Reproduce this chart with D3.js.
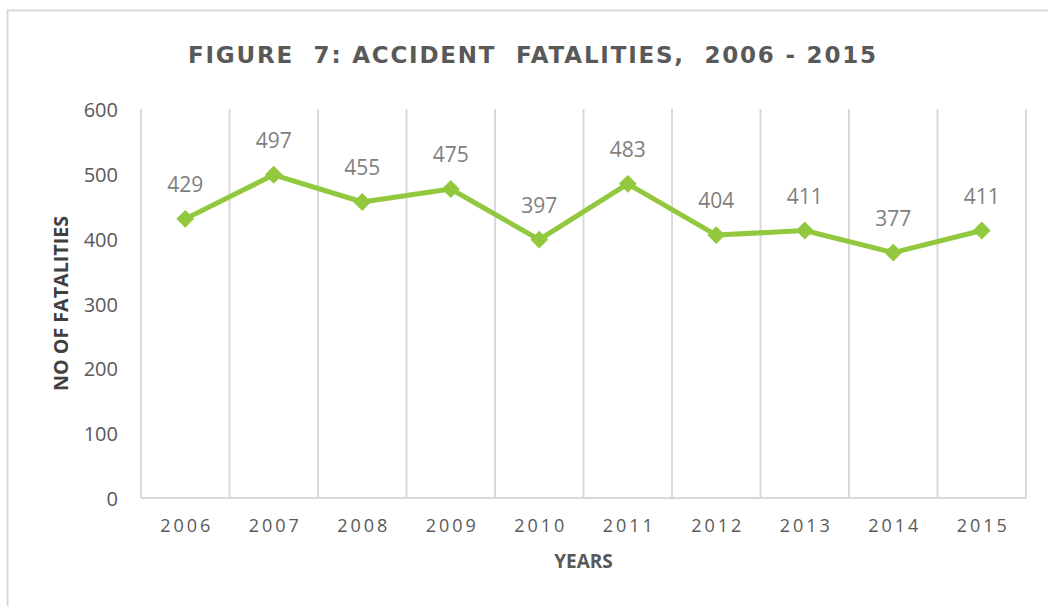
<!DOCTYPE html>
<html>
<head>
<meta charset="utf-8">
<script src="https://cdn.jsdelivr.net/npm/d3@7/dist/d3.min.js"></script>
<style>
  html, body { margin: 0; padding: 0; background: #fff; }
  svg { display: block; }
</style>
</head>
<body>
<svg id="chart" width="1048" height="606"></svg>
<script>
const years = ["2006", "2007", "2008", "2009", "2010", "2011", "2012", "2013", "2014", "2015"];
const fatalities = [429, 497, 455, 475, 397, 483, 404, 411, 377, 411];
const yTicks = [0, 100, 200, 300, 400, 500, 600];
const titleText = "FIGURE  7: ACCIDENT  FATALITIES,  2006 - 2015";
const xTitle = "YEARS";
const yTitle = "NO OF FATALITIES";

const svg = d3.select("#chart");
const plot = { left: 141, right: 1026, top: 109, bottom: 498 };
const green = "#92c83e";
const gridColor = "#d9d9d9";

// outer chart border
svg.append("rect")
  .attr("x", 7.5).attr("y", 10.5)
  .attr("width", 1200).attr("height", 800)
  .attr("fill", "none").attr("stroke", gridColor).attr("stroke-width", 2);

const x = d3.scaleBand().domain(years).range([plot.left, plot.right]).padding(0);
const y = d3.scaleLinear().domain([0, 600]).range([497, 108]);

// vertical gridlines at category boundaries
const bounds = years.map(d => x(d)).concat([plot.right]);
svg.append("g").selectAll("line").data(bounds).join("line")
  .attr("x1", d => d).attr("x2", d => d)
  .attr("y1", plot.top).attr("y2", plot.bottom)
  .attr("stroke", gridColor).attr("stroke-width", 2);

// bottom axis line
svg.append("line")
  .attr("x1", plot.left).attr("x2", plot.right)
  .attr("y1", plot.bottom).attr("y2", plot.bottom)
  .attr("stroke", gridColor).attr("stroke-width", 2);

// y axis
const yAxis = d3.axisLeft(y).tickValues(yTicks).tickSize(0).tickPadding(0);
const gy = svg.append("g").attr("transform", `translate(118,1.5)`).call(yAxis);
gy.select(".domain").remove();
gy.selectAll("text")
  .attr("font-family", "'Open Sans', sans-serif")
  .attr("font-size", 20)
  .attr("fill", "#595959")
  .attr("dy", "0.35em");

// x axis
const xAxis = d3.axisBottom(x).tickSize(0).tickPadding(0);
const gx = svg.append("g").attr("transform", `translate(0,${plot.bottom})`).call(xAxis);
gx.select(".domain").remove();
gx.selectAll("text")
  .attr("font-family", "'Open Sans', sans-serif")
  .attr("font-size", 18)
  .attr("letter-spacing", "3px")
  .attr("fill", "#595959")
  .attr("y", 34)
  .attr("dy", 0)
  .attr("dx", "1.5px");

// line
const cx = d => x(d) + x.bandwidth() / 2;
const line = d3.line().x((d, i) => cx(years[i])).y(d => y(d));
svg.append("path")
  .datum(fatalities)
  .attr("d", line)
  .attr("fill", "none")
  .attr("stroke", green)
  .attr("stroke-width", 5)
  .attr("stroke-linejoin", "round");

// diamond markers
const sym = d3.symbol().type(d3.symbolSquare).size(160);
svg.append("g").selectAll("path").data(fatalities).join("path")
  .attr("d", sym)
  .attr("transform", (d, i) => `translate(${cx(years[i])},${y(d)}) rotate(45)`)
  .attr("fill", green);

// data labels
svg.append("g").selectAll("text").data(fatalities).join("text")
  .attr("x", (d, i) => cx(years[i]))
  .attr("y", d => y(d) - 27)
  .attr("text-anchor", "middle")
  .attr("font-family", "'Open Sans', sans-serif")
  .attr("font-size", 21)
  .attr("fill", "#7f7f7f")
  .text(d => d);

// title
svg.append("text")
  .attr("x", 532).attr("y", 63)
  .attr("text-anchor", "middle")
  .attr("font-family", "'DejaVu Sans', sans-serif")
  .attr("font-weight", "bold")
  .attr("font-size", 23)
  .attr("fill", "#595959")
  .attr("textLength", 688)
  .attr("lengthAdjust", "spacing")
  .attr("xml:space", "preserve")
  .style("white-space", "pre")
  .text(titleText);

// x axis title
svg.append("text")
  .attr("x", (plot.left + plot.right) / 2)
  .attr("y", 568)
  .attr("text-anchor", "middle")
  .attr("font-family", "'Open Sans', sans-serif")
  .attr("font-weight", "bold")
  .attr("font-size", 19)
  .attr("fill", "#595959")
  .text(xTitle);

// y axis title
svg.append("text")
  .attr("transform", `translate(68,${(plot.top + plot.bottom) / 2}) rotate(-90)`)
  .attr("text-anchor", "middle")
  .attr("font-family", "'Open Sans', sans-serif")
  .attr("font-weight", "bold")
  .attr("font-size", 19)
  .attr("fill", "#404040")
  .attr("textLength", 175)
  .attr("lengthAdjust", "spacingAndGlyphs")
  .text(yTitle);
</script>
</body>
</html>
